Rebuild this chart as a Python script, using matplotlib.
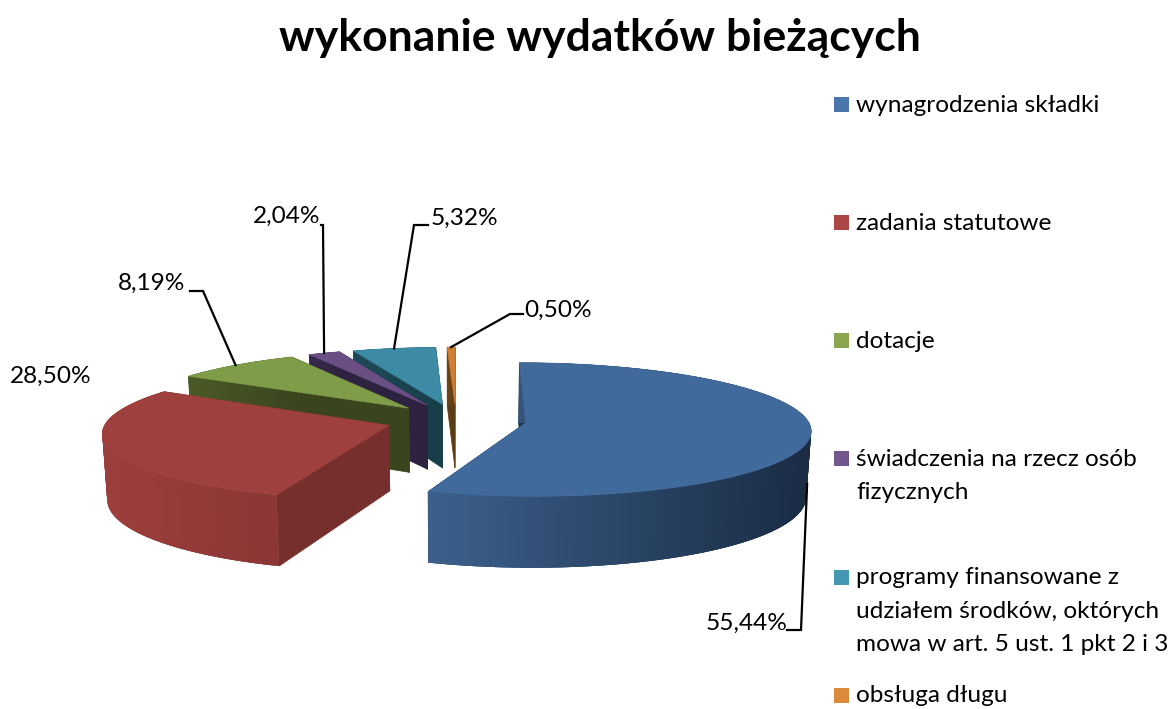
import numpy as np
import matplotlib.pyplot as plt
from matplotlib.colors import to_rgb
from matplotlib.patches import Polygon, Rectangle

plt.rcParams['font.family'] = ['Lato', 'DejaVu Sans']

categories = ['wynagrodzenia składki', 'zadania statutowe', 'dotacje',
              'świadczenia na rzecz osób\nfizycznych',
              'programy finansowane z\nudziałem środków, októrych\nmowa w art. 5 ust. 1 pkt 2 i 3',
              'obsługa długu']
values = [55.44, 28.50, 8.19, 2.04, 5.32, 0.50]
value_labels = ['55,44%', '28,50%', '8,19%', '2,04%', '5,32%', '0,50%']

top_colors = ['#416a9c', '#9e403d', '#7f9c48', '#6a4f85', '#3e8ba6', '#d07e33']
wall_left = ['#3c608c', '#9c3f3c', '#4a5a26', '#352a4a', '#1d4a58', '#6a4418']
wall_right = ['#1a2c44', '#8a3735', '#3a451d', '#2d2340', '#183e4a', '#5c3a14']
radial_colors = ['#1c3350', '#772f2d', '#3a451d', '#2d2340', '#183e4a', '#5c3a14']
legend_colors = ['#4a76ab', '#ab4744', '#8aa64f', '#72578f', '#4497b2', '#dc8a3c']

# where the label text sits and the elbow of its leader line, in pixels
label_pos = [(747, 623), (51, 376), (152, 283), (287, 216), (464, 218), (558, 310)]
elbows = [[(801, 630), (787, 630)], None, [(203, 291), (190, 291)],
          [(323, 225), (321, 225)], [(414, 225), (428, 225)], [(510, 314), (523, 314)]]
anchor_z = [-0.75, 0, 0, 0, 0, 0]
legend_y = [104, 222, 340, 458, 577, 695]

# projection of the pie
cx, cy = 456, 420
rx, ry = 282, 65.6
height = 66
explode = 0.25
persp = 0.10
tilt = 0.014


def project(x, y, z=0.0):
    s = 1 / (1 + persp * y - tilt * z)
    return cx + rx * x * s, cy - ry * y * s - height * z * s


def slice_point(theta, mid, r=1.0, z=0.0):
    x = explode * np.sin(mid) + r * np.sin(theta)
    y = explode * np.cos(mid) + r * np.cos(theta)
    return project(x, y, z)


fig = plt.figure(figsize=(11.72, 7.09), dpi=100)
ax = fig.add_axes([0, 0, 1, 1])
ax.set_xlim(0, 1172)
ax.set_ylim(709, 0)
ax.axis('off')

total = sum(values)
edges = np.radians(np.cumsum([0] + values) / total * 360)
mids = (edges[:-1] + edges[1:]) / 2

# back to front so the nearer slices cover the others
for i in [5, 4, 3, 2, 1, 0]:
    a, b, mid = edges[i], edges[i + 1], mids[i]
    for t in [b, a]:
        wall = [slice_point(t, mid, 0, 0), slice_point(t, mid, 1, 0),
                slice_point(t, mid, 1, -1), slice_point(t, mid, 0, -1)]
        ax.add_patch(Polygon(wall, color=radial_colors[i], lw=0.5))
    ts = np.linspace(a, b, max(3, int((b - a) / 0.01)))
    xs = [slice_point(t, mid)[0] for t in ts]
    c0, c1 = np.array(to_rgb(wall_left[i])), np.array(to_rgb(wall_right[i]))
    # each strip runs under the next one, that hides the seams
    for j in range(len(ts) - 1):
        t0, t1 = ts[j], ts[min(j + 3, len(ts) - 1)]
        f = np.clip((xs[j] - min(xs)) / max(max(xs) - min(xs), 1), 0, 1)
        quad = [slice_point(t0, mid), slice_point(t1, mid),
                slice_point(t1, mid, 1, -1), slice_point(t0, mid, 1, -1)]
        ax.add_patch(Polygon(quad, color=c0 + (c1 - c0) * f, lw=0))
    outline = [slice_point(0, mid, 0)] + [slice_point(t, mid) for t in ts]
    ax.add_patch(Polygon(outline, color=top_colors[i], lw=0.4))

for i, lab in enumerate(value_labels):
    ax.text(label_pos[i][0], label_pos[i][1], lab, fontsize=17.6, ha='center', va='center', color='black')
    if elbows[i] is None:
        continue
    px, py = slice_point(mids[i], mids[i], 1, anchor_z[i])
    line = [(px, py)] + elbows[i]
    ax.plot([p[0] for p in line], [p[1] for p in line], color='black', lw=1.6, solid_joinstyle='miter')

for name, y, col in zip(categories, legend_y, legend_colors):
    ax.add_patch(Rectangle((834, y - 7.5), 15, 15, color=col, lw=0))
    ax.text(856, y - 9.5, name, fontsize=17.6, ha='left', va='top', color='black', linespacing=1.73)

ax.text(600, 38, 'wykonanie wydatków bieżących', fontsize=32, fontweight='bold',
        ha='center', va='center', color='black')

fig.savefig('out.png', dpi=100)
